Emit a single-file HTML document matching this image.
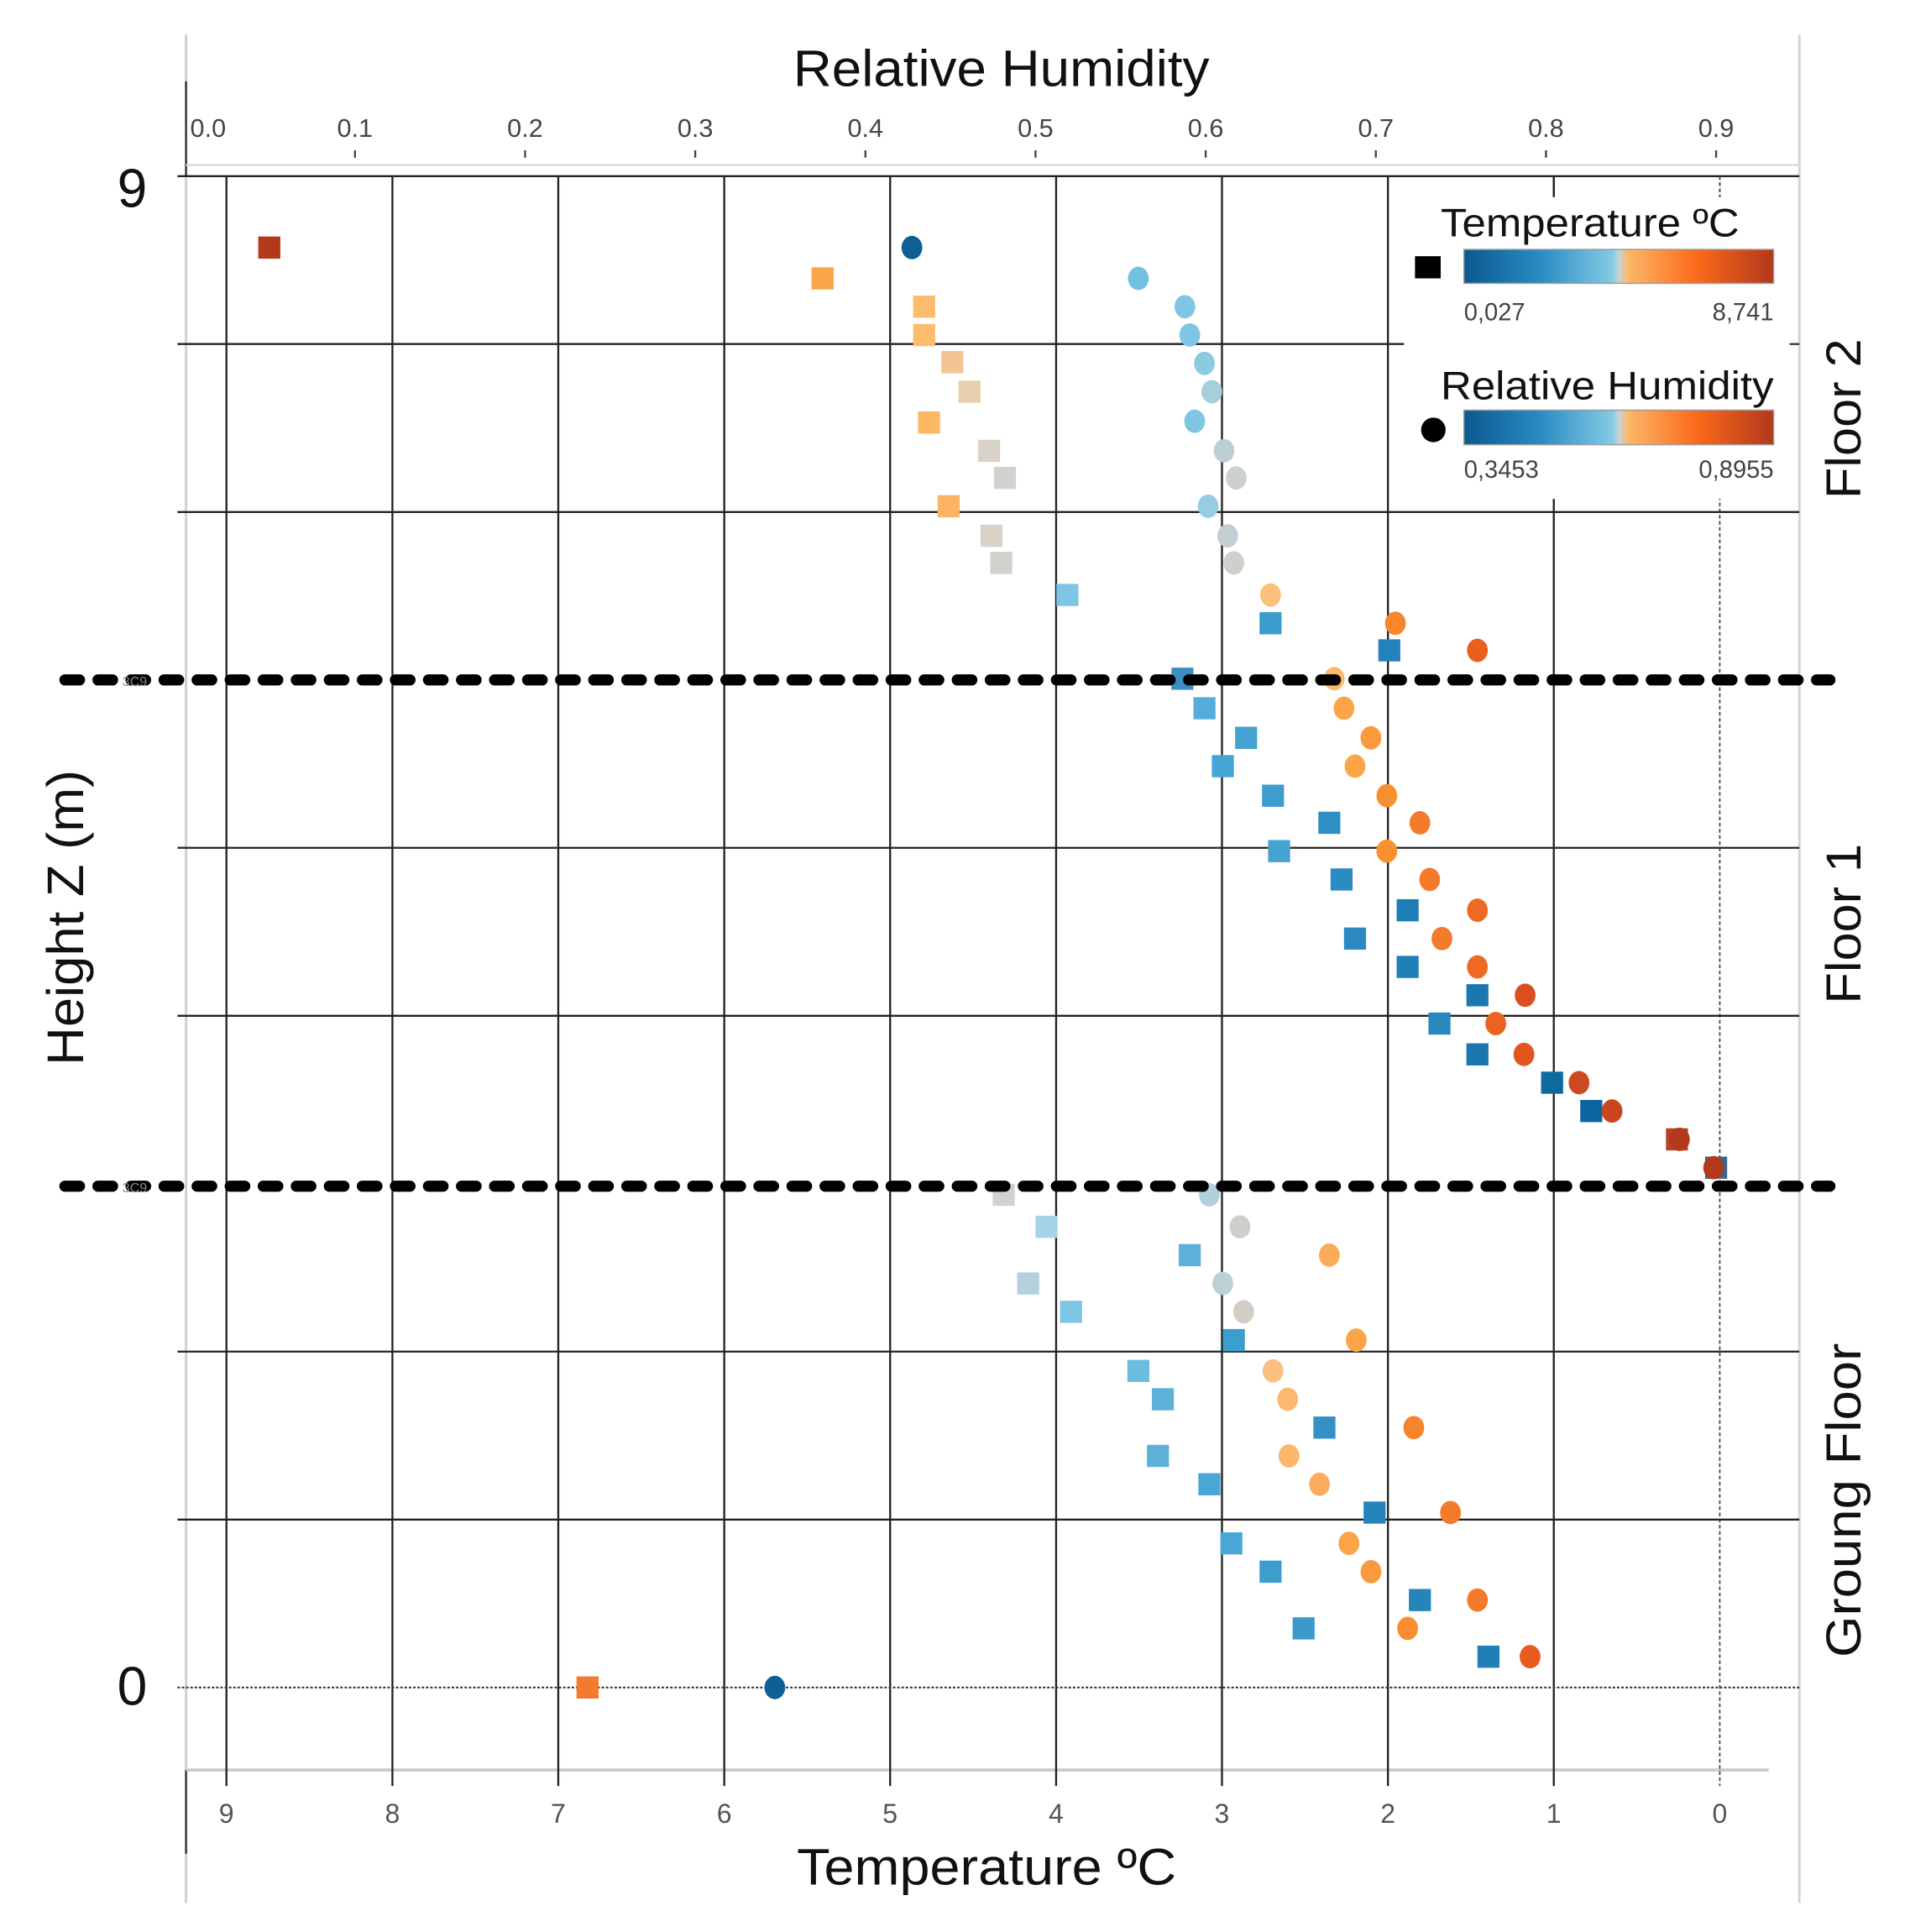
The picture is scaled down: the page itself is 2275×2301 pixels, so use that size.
<!DOCTYPE html>
<html><head><meta charset="utf-8"><style>html,body{margin:0;padding:0;background:#fff}svg{display:block}</style></head>
<body>
<svg width="2275" height="2301" viewBox="0 0 1560.4 1568.5" preserveAspectRatio="none" xmlns="http://www.w3.org/2000/svg" font-family="'Liberation Sans', sans-serif">
<defs>
<linearGradient id="cb" x1="0" x2="1" y1="0" y2="0">
<stop offset="0" stop-color="#0a5a8e"/><stop offset="0.25" stop-color="#2a8cc4"/><stop offset="0.48" stop-color="#84cbe6"/><stop offset="0.5" stop-color="#c8d4d4"/><stop offset="0.53" stop-color="#fcb768"/><stop offset="0.75" stop-color="#fb6a1a"/><stop offset="1" stop-color="#b2381c"/>
</linearGradient>
</defs>
<rect width="1560.4" height="1568.5" fill="#fff"/>
<!-- frame -->
<line x1="152" y1="28" x2="152" y2="1545" stroke="#cfcfcf" stroke-width="2"/>
<line x1="152" y1="66" x2="152" y2="143" stroke="#333" stroke-width="1.6"/>
<line x1="152" y1="1437" x2="152" y2="1505" stroke="#333" stroke-width="1.6"/>
<line x1="1470" y1="28" x2="1470" y2="1545" stroke="#d4d4d4" stroke-width="2"/>
<line x1="152" y1="134" x2="1470" y2="134" stroke="#e0e0e0" stroke-width="2"/>
<line x1="152" y1="1437" x2="1445" y2="1437" stroke="#c8c8c8" stroke-width="2.5"/>
<!-- vertical gridlines -->
<g stroke="#222" stroke-width="1.6">
<line x1="185" y1="143" x2="185" y2="1450"/><line x1="320.6" y1="143" x2="320.6" y2="1450"/>
<line x1="456.1" y1="143" x2="456.1" y2="1450"/><line x1="591.7" y1="143" x2="591.7" y2="1450"/>
<line x1="727.2" y1="143" x2="727.2" y2="1450"/><line x1="862.8" y1="143" x2="862.8" y2="1450"/>
<line x1="998.3" y1="143" x2="998.3" y2="1450"/><line x1="1133.9" y1="143" x2="1133.9" y2="1450"/>
<line x1="1269.4" y1="143" x2="1269.4" y2="1450"/>
</g>
<line x1="1405" y1="143" x2="1405" y2="1450" stroke="#444" stroke-width="1.2" stroke-dasharray="3 2"/>
<!-- RH ticks -->
<g stroke="#444" stroke-width="1.6">
<line x1="290" y1="122" x2="290" y2="128"/><line x1="429" y1="122" x2="429" y2="128"/><line x1="568" y1="122" x2="568" y2="128"/><line x1="707" y1="122" x2="707" y2="128"/><line x1="846" y1="122" x2="846" y2="128"/><line x1="985" y1="122" x2="985" y2="128"/><line x1="1124" y1="122" x2="1124" y2="128"/><line x1="1263" y1="122" x2="1263" y2="128"/><line x1="1402" y1="122" x2="1402" y2="128"/>
</g>
<!-- horizontal gridlines -->
<g stroke="#222" stroke-width="1.6">
<line x1="145" y1="143" x2="1470" y2="143"/>
<line x1="145" y1="279.3" x2="1470" y2="279.3"/>
<line x1="145" y1="415.7" x2="1470" y2="415.7"/>
<line x1="145" y1="688.3" x2="1470" y2="688.3"/>
<line x1="145" y1="824.7" x2="1470" y2="824.7"/>
<line x1="145" y1="1097.3" x2="1470" y2="1097.3"/>
<line x1="145" y1="1233.7" x2="1470" y2="1233.7"/>
</g>
<line x1="145" y1="1370" x2="1470" y2="1370" stroke="#333" stroke-width="1.4" stroke-dasharray="2 1.5"/>
<!-- legend box -->
<rect x="1147" y="160" width="316" height="245" fill="#fff"/>
<line x1="1462" y1="279.3" x2="1470" y2="279.3" stroke="#444" stroke-width="1.6"/>
<line x1="1269.4" y1="143" x2="1269.4" y2="160" stroke="#222" stroke-width="1.6"/>
<line x1="1405" y1="143" x2="1405" y2="160" stroke="#444" stroke-width="1.2" stroke-dasharray="3 2"/>
<text x="1177" y="192" font-size="32" textLength="244" lengthAdjust="spacingAndGlyphs" fill="#111">Temperature ºC</text>
<rect x="1156" y="208" width="21" height="18" fill="#000"/>
<rect x="1196" y="202.5" width="253" height="27.5" fill="url(#cb)" stroke="#9a9a9a" stroke-width="1"/>
<text x="1196" y="260" font-size="20" fill="#444">0,027</text>
<text x="1449" y="260" font-size="20" fill="#444" text-anchor="end">8,741</text>
<text x="1177" y="324" font-size="32" textLength="272" lengthAdjust="spacingAndGlyphs" fill="#111">Relative Humidity</text>
<ellipse cx="1171" cy="349" rx="10" ry="10" fill="#000"/>
<rect x="1196" y="333" width="253" height="28" fill="url(#cb)" stroke="#9a9a9a" stroke-width="1"/>
<text x="1196" y="388" font-size="20" fill="#444">0,3453</text>
<text x="1449" y="388" font-size="20" fill="#444" text-anchor="end">0,8955</text>
<!-- labels -->
<text x="818" y="70" font-size="42" text-anchor="middle" textLength="340" lengthAdjust="spacingAndGlyphs" fill="#111">Relative Humidity</text>
<g font-size="21" fill="#444" text-anchor="middle">
<text x="170" y="111">0.0</text><text x="290" y="111">0.1</text><text x="429" y="111">0.2</text><text x="568" y="111">0.3</text><text x="707" y="111">0.4</text><text x="846" y="111">0.5</text><text x="985" y="111">0.6</text><text x="1124" y="111">0.7</text><text x="1263" y="111">0.8</text><text x="1402" y="111">0.9</text>
</g>
<g font-size="22" fill="#555" text-anchor="middle">
<text x="185" y="1480">9</text><text x="320.6" y="1480">8</text><text x="456.1" y="1480">7</text><text x="591.7" y="1480">6</text><text x="727.2" y="1480">5</text><text x="862.8" y="1480">4</text><text x="998.3" y="1480">3</text><text x="1133.9" y="1480">2</text><text x="1269.4" y="1480">1</text><text x="1405" y="1480">0</text>
</g>
<text x="806" y="1530" font-size="42" text-anchor="middle" textLength="310" lengthAdjust="spacingAndGlyphs" fill="#111">Temperature ºC</text>
<text x="108" y="168" font-size="44" text-anchor="middle" fill="#111">9</text>
<text x="108" y="1384" font-size="44" text-anchor="middle" fill="#111">0</text>
<text transform="translate(68,745) rotate(-90)" font-size="42" text-anchor="middle" textLength="240" lengthAdjust="spacingAndGlyphs" fill="#111">Height Z (m)</text>
<g font-size="40" text-anchor="middle" fill="#111">
<text transform="translate(1520,340) rotate(-90)" textLength="130" lengthAdjust="spacingAndGlyphs">Floor 2</text>
<text transform="translate(1520,750) rotate(-90)" textLength="130" lengthAdjust="spacingAndGlyphs">Floor 1</text>
<text transform="translate(1520,1218) rotate(-90)" textLength="255" lengthAdjust="spacingAndGlyphs">Groung Floor</text>
</g>
<!-- squares -->
<g>
<rect x="211" y="192" width="18" height="18" fill="#b23a1a"/>
<rect x="663" y="217" width="18" height="18" fill="#fba448"/>
<rect x="746" y="240" width="18" height="18" fill="#fdbb6e"/>
<rect x="746" y="263" width="18" height="18" fill="#fdbb6e"/>
<rect x="769" y="285" width="18" height="18" fill="#f3c494"/>
<rect x="783" y="309" width="18" height="18" fill="#e8cfae"/>
<rect x="750" y="334" width="18" height="18" fill="#fdb862"/>
<rect x="799" y="357" width="18" height="18" fill="#d8d2c8"/>
<rect x="812" y="379" width="18" height="18" fill="#d2d1ce"/>
<rect x="766" y="402" width="18" height="18" fill="#fbb462"/>
<rect x="801" y="426" width="18" height="18" fill="#d8d2c8"/>
<rect x="809" y="448" width="18" height="18" fill="#d2d1ce"/>
<rect x="863" y="474" width="18" height="18" fill="#7ec4e4"/>
<rect x="1029" y="497" width="18" height="18" fill="#3b9ccc"/>
<rect x="1126" y="519" width="18" height="18" fill="#2483bb"/>
<rect x="957" y="542" width="18" height="18" fill="#3a8fc0"/>
<rect x="975" y="566" width="18" height="18" fill="#55acd8"/>
<rect x="1009" y="590" width="18" height="18" fill="#45a3d3"/>
<rect x="990" y="613" width="18" height="18" fill="#45a6d6"/>
<rect x="1031" y="637" width="18" height="18" fill="#3d9dcd"/>
<rect x="1077" y="659" width="18" height="18" fill="#2f8fc4"/>
<rect x="1036" y="682" width="18" height="18" fill="#45a3d3"/>
<rect x="1087" y="705" width="18" height="18" fill="#2c8bc2"/>
<rect x="1141" y="730" width="18" height="18" fill="#1e7fb6"/>
<rect x="1098" y="753" width="18" height="18" fill="#2a89c0"/>
<rect x="1141" y="776" width="18" height="18" fill="#1f80b7"/>
<rect x="1198" y="799" width="18" height="18" fill="#1a78ae"/>
<rect x="1167" y="822" width="18" height="18" fill="#2b88bf"/>
<rect x="1198" y="847" width="18" height="18" fill="#1a76ad"/>
<rect x="1259" y="870" width="18" height="18" fill="#0f6aa0"/>
<rect x="1291" y="893" width="18" height="18" fill="#0d65a0"/>
<rect x="1361" y="916" width="18" height="18" fill="#b7432a"/>
<rect x="1393" y="939" width="18" height="18" fill="#3a6590"/>
<rect x="811" y="961" width="18" height="18" fill="#d2d1ce"/>
<rect x="846" y="987" width="18" height="18" fill="#a4d2e6"/>
<rect x="963" y="1010" width="18" height="18" fill="#5fb0d8"/>
<rect x="831" y="1033" width="18" height="18" fill="#b4d0dc"/>
<rect x="866" y="1056" width="18" height="18" fill="#7ec4e4"/>
<rect x="999" y="1079" width="18" height="18" fill="#3d9dcd"/>
<rect x="921" y="1104" width="18" height="18" fill="#6cbce0"/>
<rect x="941" y="1127" width="18" height="18" fill="#5fb0d8"/>
<rect x="1073" y="1150" width="18" height="18" fill="#3391c6"/>
<rect x="937" y="1173" width="18" height="18" fill="#5fb0d8"/>
<rect x="979" y="1196" width="18" height="18" fill="#4aa6d4"/>
<rect x="1114" y="1219" width="18" height="18" fill="#2585bb"/>
<rect x="997" y="1244" width="18" height="18" fill="#4aa6d4"/>
<rect x="1029" y="1267" width="18" height="18" fill="#3d9dcd"/>
<rect x="1151" y="1290" width="18" height="18" fill="#2585bb"/>
<rect x="1056" y="1313" width="18" height="18" fill="#3b9acb"/>
<rect x="1207" y="1336" width="18" height="18" fill="#1f7fb6"/>
<rect x="471" y="1361" width="18" height="18" fill="#f47a2c"/>
</g>
<!-- circles -->
<g>
<ellipse cx="745" cy="201" rx="8.5" ry="9.5" fill="#0e5f95"/>
<ellipse cx="930" cy="226" rx="8.5" ry="9.5" fill="#72c0e2"/>
<ellipse cx="968" cy="249" rx="8.5" ry="9.5" fill="#7ec6e4"/>
<ellipse cx="972" cy="272" rx="8.5" ry="9.5" fill="#7ec6e4"/>
<ellipse cx="984" cy="295" rx="8.5" ry="9.5" fill="#8ccae2"/>
<ellipse cx="990" cy="318" rx="8.5" ry="9.5" fill="#a6cfdc"/>
<ellipse cx="976" cy="342" rx="8.5" ry="9.5" fill="#7ec6e4"/>
<ellipse cx="1000" cy="366" rx="8.5" ry="9.5" fill="#bccfd4"/>
<ellipse cx="1010" cy="388" rx="8.5" ry="9.5" fill="#ccd0d0"/>
<ellipse cx="987" cy="411" rx="8.5" ry="9.5" fill="#98cce2"/>
<ellipse cx="1003" cy="435" rx="8.5" ry="9.5" fill="#c2d0d4"/>
<ellipse cx="1008" cy="457" rx="8.5" ry="9.5" fill="#cfd0cc"/>
<ellipse cx="1038" cy="483" rx="8.5" ry="9.5" fill="#fbbf7c"/>
<ellipse cx="1140" cy="506" rx="8.5" ry="9.5" fill="#f7862c"/>
<ellipse cx="1207" cy="528" rx="8.5" ry="9.5" fill="#ea5e1e"/>
<ellipse cx="1090" cy="551" rx="8.5" ry="9.5" fill="#fbb86a"/>
<ellipse cx="1098" cy="575" rx="8.5" ry="9.5" fill="#fba448"/>
<ellipse cx="1120" cy="599" rx="8.5" ry="9.5" fill="#f99a3c"/>
<ellipse cx="1107" cy="622" rx="8.5" ry="9.5" fill="#fba448"/>
<ellipse cx="1133" cy="646" rx="8.5" ry="9.5" fill="#f8902f"/>
<ellipse cx="1160" cy="668" rx="8.5" ry="9.5" fill="#f47a2c"/>
<ellipse cx="1133" cy="691" rx="8.5" ry="9.5" fill="#f8902f"/>
<ellipse cx="1168" cy="714" rx="8.5" ry="9.5" fill="#f47a2c"/>
<ellipse cx="1207" cy="739" rx="8.5" ry="9.5" fill="#ee6a22"/>
<ellipse cx="1178" cy="762" rx="8.5" ry="9.5" fill="#f47a2c"/>
<ellipse cx="1207" cy="785" rx="8.5" ry="9.5" fill="#ee6a22"/>
<ellipse cx="1246" cy="808" rx="8.5" ry="9.5" fill="#d9501e"/>
<ellipse cx="1222" cy="831" rx="8.5" ry="9.5" fill="#ec621f"/>
<ellipse cx="1245" cy="856" rx="8.5" ry="9.5" fill="#e0561d"/>
<ellipse cx="1290" cy="879" rx="8.5" ry="9.5" fill="#cc4a22"/>
<ellipse cx="1317" cy="902" rx="8.5" ry="9.5" fill="#c9461f"/>
<ellipse cx="1372" cy="925" rx="8.5" ry="9.5" fill="#b23a1a"/>
<ellipse cx="1400" cy="948" rx="8.5" ry="9.5" fill="#b23a1a"/>
<ellipse cx="988" cy="970" rx="8.5" ry="9.5" fill="#b0d0dc"/>
<ellipse cx="1013" cy="996" rx="8.5" ry="9.5" fill="#ced0cc"/>
<ellipse cx="1086" cy="1019" rx="8.5" ry="9.5" fill="#fbac58"/>
<ellipse cx="999" cy="1042" rx="8.5" ry="9.5" fill="#bcd0d6"/>
<ellipse cx="1016" cy="1065" rx="8.5" ry="9.5" fill="#d2cec4"/>
<ellipse cx="1108" cy="1088" rx="8.5" ry="9.5" fill="#fba448"/>
<ellipse cx="1040" cy="1113" rx="8.5" ry="9.5" fill="#fbc080"/>
<ellipse cx="1052" cy="1136" rx="8.5" ry="9.5" fill="#fbb870"/>
<ellipse cx="1155" cy="1159" rx="8.5" ry="9.5" fill="#f7842c"/>
<ellipse cx="1053" cy="1182" rx="8.5" ry="9.5" fill="#fbb86a"/>
<ellipse cx="1078" cy="1205" rx="8.5" ry="9.5" fill="#fbac5e"/>
<ellipse cx="1185" cy="1228" rx="8.5" ry="9.5" fill="#f47a2c"/>
<ellipse cx="1102" cy="1253" rx="8.5" ry="9.5" fill="#fba448"/>
<ellipse cx="1120" cy="1276" rx="8.5" ry="9.5" fill="#f99a3c"/>
<ellipse cx="1207" cy="1299" rx="8.5" ry="9.5" fill="#f47a2c"/>
<ellipse cx="1150" cy="1322" rx="8.5" ry="9.5" fill="#f98e2e"/>
<ellipse cx="1250" cy="1345" rx="8.5" ry="9.5" fill="#e85a1e"/>
<ellipse cx="633" cy="1370" rx="8.5" ry="9.5" fill="#0e5f95"/>
</g>
<!-- dashed floor lines -->
<g stroke="#000" stroke-width="9" stroke-linecap="round" stroke-dasharray="12 15">
<line x1="53" y1="552" x2="1495" y2="552"/>
<line x1="53" y1="963" x2="1495" y2="963"/>
</g>
<text x="100" y="557" font-size="11" fill="#888">3C9</text>
<text x="100" y="968" font-size="11" fill="#888">3C9</text>
</svg>
</body></html>
